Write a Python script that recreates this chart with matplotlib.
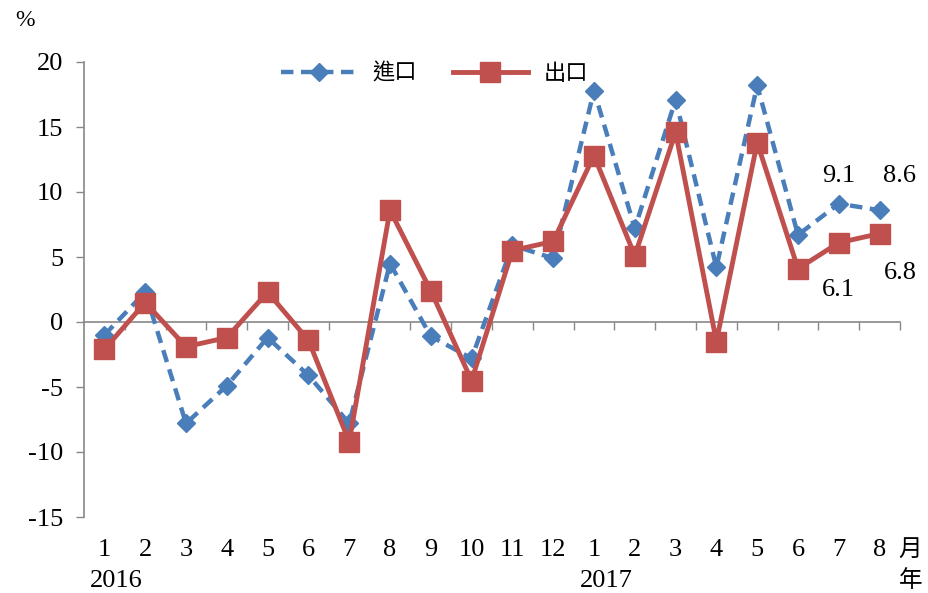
import matplotlib
matplotlib.use("Agg")
import matplotlib.pyplot as plt
import numpy as np

months = ["1", "2", "3", "4", "5", "6", "7", "8", "9", "10", "11", "12",
          "1", "2", "3", "4", "5", "6", "7", "8"]
years = ["2016", "2017"]
imports = [-1.0, 2.3, -7.8, -4.9, -1.2, -4.1, -7.8, 4.5, -1.1, -2.8, 5.9, 4.9,
           17.8, 7.2, 17.1, 4.2, 18.2, 6.7, 9.1, 8.6]
exports = [-2.1, 1.5, -1.9, -1.2, 2.3, -1.4, -9.2, 8.6, 2.4, -4.5, 5.5, 6.2,
           12.8, 5.1, 14.6, -1.5, 13.8, 4.1, 6.1, 6.8]
yticks = [-15, -10, -5, 0, 5, 10, 15, 20]

serif = ["Liberation Serif", "Noto Sans CJK TC", "DejaVu Sans"]
cjk = ["Noto Sans CJK TC", "Liberation Serif"]
plt.rcParams['font.family'] = serif

W, H = 929, 593
fig = plt.figure(figsize=(W / 100, H / 100), dpi=100)
ax = fig.add_axes([84 / W, 1 - 517 / H, (900 - 84) / W, (517 - 62) / H])

x = np.arange(len(months)) + 0.5
blue = "#4A7EBB"
red = "#C0504D"
FS = 19
ax.plot(x, imports, color=blue, lw=3.2, ls=(0, (2.8, 1.7)), marker="D", ms=9,
        mfc=blue, mec=blue, label="進口", zorder=3)
ax.plot(x, exports, color=red, lw=3.5, marker="s", ms=14, mfc=red, mec=red,
        label="出口", zorder=4)

ax.set_xlim(0, len(months))
ax.set_ylim(-15, 20)
ax.set_yticks(yticks)
ax.set_yticklabels([str(v) for v in yticks], fontsize=FS)
ax.tick_params(axis="y", direction="out", length=6, color="#888888", width=1, pad=9)

for s in ["top", "right"]:
    ax.spines[s].set_visible(False)
ax.spines["bottom"].set_position(("data", 0))
ax.spines["bottom"].set_color("#888888")
ax.spines["left"].set_color("#888888")
ax.spines["bottom"].set_linewidth(1.2)
ax.spines["left"].set_linewidth(1.2)
ax.set_xticks(np.arange(1, len(months) + 1))
ax.set_xticklabels([])
ax.tick_params(axis="x", direction="out", length=6, color="#888888", width=1)

# month labels
for xi, m in zip(x, months):
    ax.text(xi, -17.5, m, ha="center", va="center", fontsize=FS)
ax.text(0.8, -19.9, years[0], ha="center", va="center", fontsize=FS)
ax.text(12.8, -19.9, years[1], ha="center", va="center", fontsize=FS)
ax.text(20.25, -17.5, "月", ha="center", va="center", fontsize=17, family=cjk, clip_on=False)
ax.text(20.25, -19.9, "年", ha="center", va="center", fontsize=17, family=cjk, clip_on=False)
fig.text(25 / W, 1 - 20 / H, "%", ha="center", va="center", fontsize=17)

# annotations
ax.text(x[18], 11.2, "9.1", ha="center", va="center", fontsize=FS)
ax.text(x[19] + 0.5, 11.2, "8.6", ha="center", va="center", fontsize=FS)
ax.text(x[18], 2.5, "6.1", ha="center", va="center", fontsize=FS)
ax.text(x[19] + 0.5, 3.8, "6.8", ha="center", va="center", fontsize=FS)

leg = ax.legend(loc="upper center", bbox_to_anchor=(0.43, 1.045), ncol=2, frameon=False,
                prop={"family": cjk, "size": 16}, handlelength=3.4, columnspacing=1.6,
                handletextpad=0.7)

fig.savefig("out.png", dpi=100)
